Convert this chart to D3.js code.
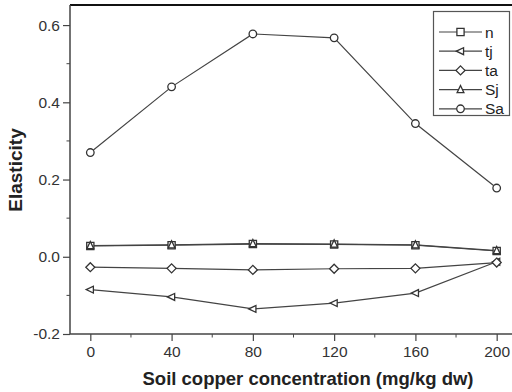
<!DOCTYPE html>
<html>
<head>
<meta charset="utf-8">
<script src="https://cdn.jsdelivr.net/npm/d3@7/dist/d3.min.js"></script>
<style>
  html, body { margin: 0; padding: 0; background: #fff; }
  svg { display: block; }
  text { font-family: "Liberation Sans", Arial, sans-serif; }
</style>
</head>
<body>
<svg id="chart" width="512" height="392"></svg>
<script>
// Copper concentrations (mg/kg dw)
const copper = [0, 40, 80, 120, 160, 200];

// Elasticity of each parameter
const nVals  = [0.028, 0.030, 0.033, 0.032, 0.030, 0.015];
const tjVals = [-0.085, -0.104, -0.135, -0.120, -0.094, -0.013];
const taVals = [-0.027, -0.030, -0.034, -0.031, -0.030, -0.015];
const SjVals = [0.029, 0.031, 0.034, 0.033, 0.031, 0.016];
const SaVals = [0.270, 0.440, 0.577, 0.567, 0.345, 0.178];

const seriesNames = ["n", "tj", "ta", "Sj", "Sa"];
const seriesSymbols = ["square", "triLeft", "diamond", "triUp", "circle"];
const seriesData = [nVals, tjVals, taVals, SjVals, SaVals];

const xTicks = [0, 40, 80, 120, 160, 200];
const yTicks = [-0.2, 0.0, 0.2, 0.4, 0.6];

const svg = d3.select("#chart");
const plotLeft = 70, plotRight = 517, plotTop = 5, plotBottom = 334;

const x = d3.scaleLinear().domain([-10, 210]).range([plotLeft, plotRight]);
const y = d3.scaleLinear().domain([-0.2, 0.652]).range([plotBottom, plotTop]);

const axisColor = "#444";
const lineColor = "#444";

// Frame: top border
svg.append("line").attr("x1", plotLeft).attr("x2", 512).attr("y1", plotTop).attr("y2", plotTop)
  .attr("stroke", "#111").attr("stroke-width", 2);

// Minor ticks
const xMinor = d3.range(20, 201, 40);
const yMinor = [-0.1, 0.1, 0.3, 0.5];
svg.append("g").selectAll("line").data(xMinor).join("line")
  .attr("x1", d => x(d)).attr("x2", d => x(d))
  .attr("y1", plotBottom).attr("y2", plotBottom + 3.5)
  .attr("stroke", axisColor).attr("stroke-width", 1);
svg.append("g").selectAll("line").data(yMinor).join("line")
  .attr("x1", plotLeft - 3.5).attr("x2", plotLeft)
  .attr("y1", d => y(d)).attr("y2", d => y(d))
  .attr("stroke", axisColor).attr("stroke-width", 1);

const yFmt = v => d3.format(".1f")(v).replace("\u2212", "-");
const xAxis = svg.append("g").attr("transform", `translate(0,${plotBottom})`)
  .call(d3.axisBottom(x).tickValues(xTicks).tickSize(7).tickSizeOuter(0).tickPadding(5)
    .tickFormat(d3.format("d")));
const yAxis = svg.append("g").attr("transform", `translate(${plotLeft},0)`)
  .call(d3.axisLeft(y).tickValues(yTicks).tickSize(7).tickSizeOuter(0).tickPadding(3)
    .tickFormat(yFmt));

[xAxis, yAxis].forEach(g => {
  g.select(".domain").attr("stroke", axisColor).attr("stroke-width", 1.5);
  g.selectAll(".tick line").attr("stroke", axisColor).attr("stroke-width", 1.2);
  g.selectAll(".tick text").attr("fill", "#333").attr("font-size", 15.5);
});
// Axis lines span the whole frame
xAxis.select(".domain").attr("d", `M${plotLeft},0H512`);
yAxis.select(".domain").attr("d", `M0,${plotTop}V${plotBottom}`);

// Axis titles
svg.append("text").attr("x", 308).attr("y", 384.5).attr("text-anchor", "middle")
  .attr("font-size", 18.5).attr("font-weight", "bold").attr("fill", "#222")
  .text("Soil copper concentration (mg/kg dw)");
svg.append("text").attr("transform", "translate(22,170) rotate(-90)")
  .attr("text-anchor", "middle").attr("font-size", 19).attr("font-weight", "bold")
  .attr("fill", "#222").text("Elasticity");

// Marker shapes
function markerPath(type, s) {
  switch (type) {
    case "square": return `M${-s},${-s}H${s}V${s}H${-s}Z`;
    case "triLeft": return `M${-s * 1.15},0L${s * 0.85},${-s * 0.95}L${s * 0.85},${s * 0.95}Z`;
    case "triUp": return `M0,${-s * 1.15}L${s * 0.95},${s * 0.85}L${-s * 0.95},${s * 0.85}Z`;
    case "diamond": return `M0,${-s * 1.25}L${s * 1.25},0L0,${s * 1.25}L${-s * 1.25},0Z`;
    case "circle": return d3.arc()({innerRadius: 0, outerRadius: s * 1.05, startAngle: 0, endAngle: 2 * Math.PI});
  }
}

const line = d3.line().x((d, i) => x(copper[i])).y(d => y(d));
const plot = svg.append("g");

seriesData.forEach((vals) => {
  plot.append("path").datum(vals).attr("d", line)
    .attr("fill", "none").attr("stroke", lineColor).attr("stroke-width", 1.2);
});
seriesData.forEach((vals, k) => {
  plot.append("g").selectAll("path").data(vals).join("path")
    .attr("transform", (d, i) => `translate(${x(copper[i])},${y(d)})`)
    .attr("d", markerPath(seriesSymbols[k], 3.6))
    .attr("fill", "#fff").attr("stroke", "#333").attr("stroke-width", 1.3);
});

// Legend
const lg = svg.append("g");
lg.append("rect").attr("x", 433.5).attr("y", 11.5).attr("width", 76).attr("height", 104)
  .attr("fill", "#fff").attr("stroke", "#555").attr("stroke-width", 1.2);
seriesNames.forEach((name, k) => {
  const yy = 32 + k * 19.2;
  lg.append("line").attr("x1", 439).attr("x2", 482).attr("y1", yy).attr("y2", yy)
    .attr("stroke", lineColor).attr("stroke-width", 1.2);
  lg.append("path").attr("transform", `translate(460.5,${yy})`)
    .attr("d", markerPath(seriesSymbols[k], 3.6))
    .attr("fill", "#fff").attr("stroke", "#333").attr("stroke-width", 1.3);
  lg.append("text").attr("x", 485).attr("y", yy + 5.5).attr("font-size", 15.5)
    .attr("fill", "#222").text(name);
});
</script>
</body>
</html>
